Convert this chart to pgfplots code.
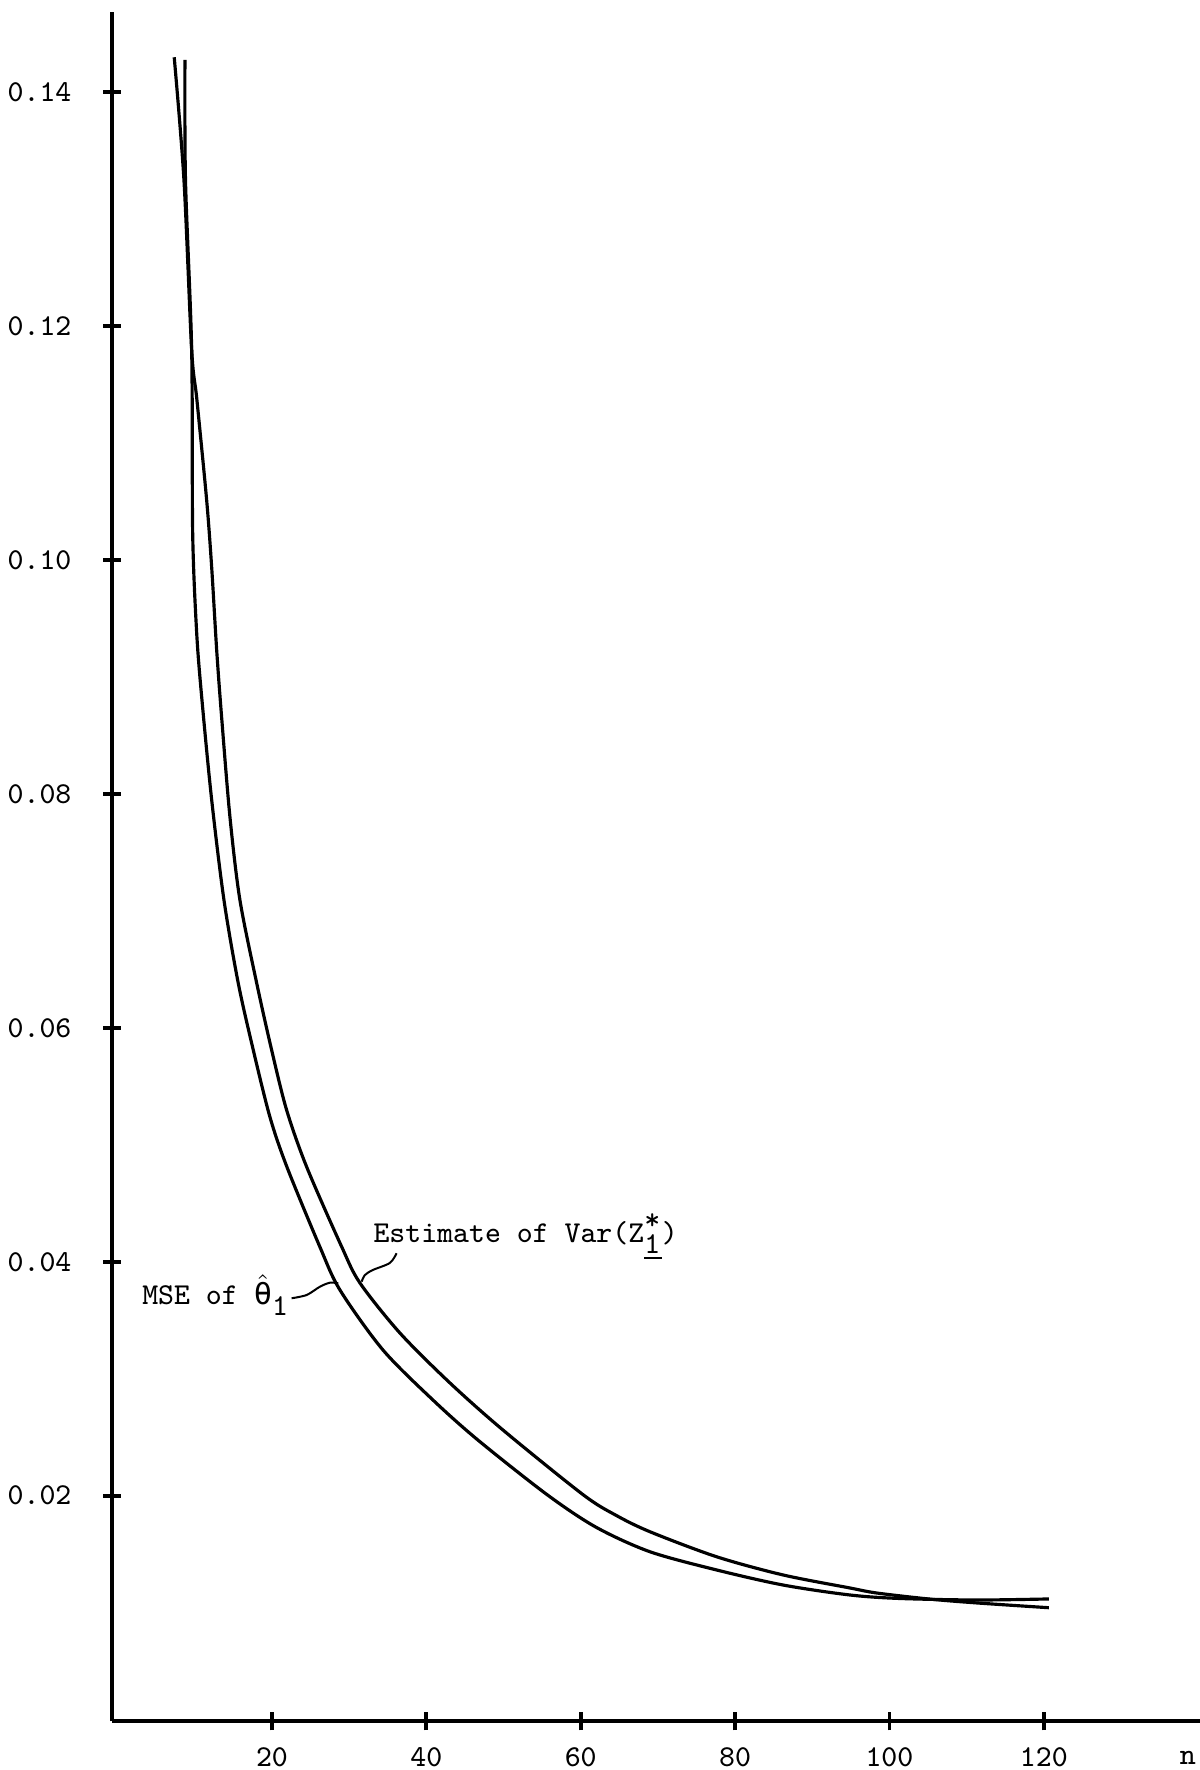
\documentclass[border=0pt]{standalone}
\usepackage{fontspec}
\newfontfamily\grk{DejaVu Sans Mono}
\usepackage{pgfplots}
\pgfplotsset{compat=1.18}
\newcommand{\tw}{\ttfamily\fontsize{9.1}{11}\selectfont}
\begin{document}
\begin{tikzpicture}
\begin{axis}[
  scale only axis, width=326.3pt, height=512.9pt,
  xmin=-0.7, xmax=140.2, ymin=0.0007, ymax=0.14687,
  axis lines=left,
  axis line style={-, line width=1.2pt},
  xtick={20,40,60,80,100,120},
  xticklabels={20,40,60,80,100,120},
  ytick={0.02,0.04,0.06,0.08,0.10,0.12,0.14},
  yticklabels={0.02,0.04,0.06,0.08,0.10,0.12,0.14},
  tick align=center,
  major tick length=5.4pt,
  tick style={line width=1.1pt, black},
  xticklabel style={font=\tw, yshift=-1.6pt},
  yticklabel style={font=\tw, xshift=-6pt},
  clip=false,
]
% Estimate of Var(Z*_1)
\addplot[black, line width=0.95pt, smooth, tension=0.5] coordinates {
(7.34,0.14299) (8.60,0.13250) (9.60,0.11797) (10.28,0.11369) (11.54,0.10514)
(12.19,0.09941) (12.84,0.09231) (13.48,0.08658) (14.56,0.07803) (15.85,0.07094)
(18.02,0.06384) (19.96,0.05811) (21.90,0.05298) (24.50,0.04811)
(29.03,0.04129) (31.40,0.03819) (36.58,0.03391) (43.06,0.02964) (49.92,0.02562)
(60.28,0.02010) (64.50,0.01835) (68.96,0.01692) (77.60,0.01478) (86.23,0.01322) (94.87,0.01211)
(98.33,0.01168) (105.2,0.01116) (111.3,0.01083) (120.65,0.01042)
};
% MSE of theta_1
\addplot[black, line width=0.95pt, smooth, tension=0.5] coordinates {
(8.73,0.14276) (8.80,0.13250) (9.60,0.11797) (9.73,0.10232) (10.25,0.09377)
(10.93,0.08806) (12.19,0.07951) (13.78,0.07095) (15.63,0.06384)
(17.58,0.05811) (19.74,0.05238) (21.94,0.04811) (26.22,0.04126) (28.81,0.03759)
(34.38,0.03246) (40.86,0.02818) (46.68,0.02476) (55.62,0.02010) (62.00,0.01730) (68.96,0.01521)
(77.60,0.01365) (86.23,0.01236) (94.87,0.01151) (101.35,0.01121) (111.32,0.01108)
(120.65,0.01117)
};
% leader lines
\addplot[black, line width=0.6pt, smooth] coordinates {
(36.15,0.04073) (35.28,0.03990) (33.08,0.03930) (32.05,0.03887) (31.62,0.03830)
};
\addplot[black, line width=0.6pt, smooth] coordinates {
(22.55,0.03688) (24.50,0.03716) (26.22,0.03787) (27.51,0.03821) (28.59,0.03816)
};
\node[anchor=base west, inner sep=0pt, font=\tw] at (axis cs:33.08,0.04169)
  {Estimate of Var(Z$^{\texttt{*}}_{\underline{\texttt{1}}}$)};
\node[anchor=base west, inner sep=0pt, font=\tw] at (axis cs:3.12,0.03631)
  {MSE of $\hat{\mbox{\grk θ}}$\raisebox{-0.8ex}{1}};
\node[font=\tw, yshift=-10.8pt] at (rel axis cs:0.98899,0) {n};
\coordinate (bbll) at (rel axis cs:-0.10314,-0.02842);
\coordinate (bbur) at (rel axis cs:1,1.00698);
\end{axis}
\pgfresetboundingbox
\path[use as bounding box] (bbll) rectangle (bbur);
\end{tikzpicture}
\end{document}
